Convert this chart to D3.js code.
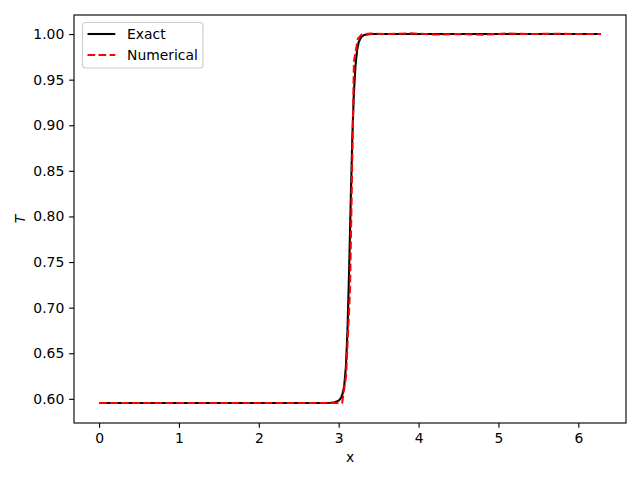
<!DOCTYPE html>
<html>
<head>
<meta charset="utf-8">
<script src="https://cdn.jsdelivr.net/npm/d3@7"></script>
<style>
  html, body { margin: 0; padding: 0; background: #fff; }
  svg { display: block; font-family: "DejaVu Sans", sans-serif; }
</style>
</head>
<body>
<svg id="chart" width="640" height="480"></svg>
<script>
// ---- data ----
const exactX = [0.000, 1.000, 2.000, 2.800, 2.900, 2.950, 3.000, 3.030, 3.050, 3.070, 3.090, 3.110, 3.130, 3.150, 3.170, 3.190, 3.210, 3.230, 3.250, 3.280, 3.320, 3.400, 4.000, 5.000, 6.283];
const exactT = [0.5955, 0.5955, 0.5955, 0.5955, 0.5957, 0.5962, 0.5980, 0.6010, 0.6060, 0.6150, 0.6350, 0.6750, 0.7400, 0.8150, 0.8850, 0.9350, 0.9650, 0.9820, 0.9910, 0.9965, 0.9990, 1.0000, 1.0000, 1.0000, 1.0000];

const numX = [0.000, 1.000, 2.000, 3.000, 3.043, 3.092, 3.142, 3.191, 3.240, 3.289, 3.400, 3.600, 3.900, 4.200, 4.500, 4.800, 5.100, 5.400, 5.700, 6.000, 6.283];
const numT = [0.5955, 0.5955, 0.5955, 0.5955, 0.5955, 0.6250, 0.7200, 0.9700, 0.9950, 0.9995, 1.0005, 1.0000, 1.0008, 0.9995, 1.0000, 0.9993, 1.0005, 1.0000, 1.0004, 1.0000, 1.0000];

const xTicks = [0, 1, 2, 3, 4, 5, 6];
const yTicks = [0.60, 0.65, 0.70, 0.75, 0.80, 0.85, 0.90, 0.95, 1.00];
const seriesNames = ["Exact", "Numerical"];

// ---- layout ----
const svg = d3.select("#chart");
const L = 74, R = 626, T = 15, B = 423;

const xMin = 0, xMax = 6.283;
const xPad = (xMax - xMin) * 0.05;
const x = d3.scaleLinear().domain([xMin - xPad, xMax + xPad]).range([L, R]);
const y = d3.scaleLinear().domain([0.5735, 1.0209]).range([B, T]);

const fontSize = 13.9;

// clip
svg.append("defs").append("clipPath").attr("id", "clip")
  .append("rect").attr("x", L).attr("y", T).attr("width", R - L).attr("height", B - T);

const line = d3.line().x(d => x(d[0])).y(d => y(d[1]));

const g = svg.append("g").attr("clip-path", "url(#clip)");
g.append("path")
  .datum(exactX.map((v, i) => [v, exactT[i]]))
  .attr("d", line).attr("fill", "none")
  .attr("stroke", "#000000").attr("stroke-width", 2.08)
  .attr("stroke-linejoin", "round").attr("stroke-linecap", "butt");
g.append("path")
  .datum(numX.map((v, i) => [v, numT[i]]))
  .attr("d", line).attr("fill", "none")
  .attr("stroke", "#ff0000").attr("stroke-width", 2.08)
  .attr("stroke-dasharray", "7.7,3.33")
  .attr("stroke-linejoin", "round").attr("stroke-linecap", "butt");

// axes
const xAxis = d3.axisBottom(x).tickValues(xTicks).tickFormat(d3.format("d")).tickSize(4.86).tickPadding(4.86);
const yAxis = d3.axisLeft(y).tickValues(yTicks).tickFormat(d3.format(".2f")).tickSize(4.86).tickPadding(4.86);

const gx = svg.append("g").attr("transform", `translate(0,${B})`).call(xAxis);
const gy = svg.append("g").attr("transform", `translate(${L},0)`).call(yAxis);
[gx, gy].forEach(a => {
  a.select(".domain").remove();
  a.selectAll(".tick line").attr("stroke", "#000").attr("stroke-width", 1.11);
  a.selectAll(".tick text").attr("fill", "#000").attr("font-size", fontSize)
    .attr("font-family", "DejaVu Sans, sans-serif");
});

// frame
svg.append("rect").attr("x", L).attr("y", T).attr("width", R - L).attr("height", B - T)
  .attr("fill", "none").attr("stroke", "#000").attr("stroke-width", 1.11);

// axis labels
svg.append("text").attr("x", (L + R) / 2).attr("y", 462)
  .attr("text-anchor", "middle").attr("font-size", fontSize).text("x");
svg.append("text")
  .attr("transform", `translate(25,${(T + B) / 2}) rotate(-90)`)
  .attr("text-anchor", "middle").attr("font-size", fontSize)
  .attr("font-style", "italic").text("T");

// legend
const lg = svg.append("g");
lg.append("rect").attr("x", 82.5).attr("y", 22.5).attr("width", 120.5).attr("height", 45.5)
  .attr("rx", 3).attr("fill", "#fff").attr("fill-opacity", 0.8)
  .attr("stroke", "#cccccc").attr("stroke-width", 1.11);
const legendRows = [
  { name: seriesNames[0], color: "#000000", dash: null, yy: 34 },
  { name: seriesNames[1], color: "#ff0000", dash: "7.7,3.33", yy: 55 }
];
legendRows.forEach(r => {
  lg.append("line").attr("x1", 87.5).attr("x2", 115.3).attr("y1", r.yy).attr("y2", r.yy)
    .attr("stroke", r.color).attr("stroke-width", 2.08)
    .attr("stroke-dasharray", r.dash);
  lg.append("text").attr("x", 127).attr("y", r.yy).attr("dy", "0.35em")
    .attr("font-size", fontSize).text(r.name);
});
</script>
</body>
</html>
